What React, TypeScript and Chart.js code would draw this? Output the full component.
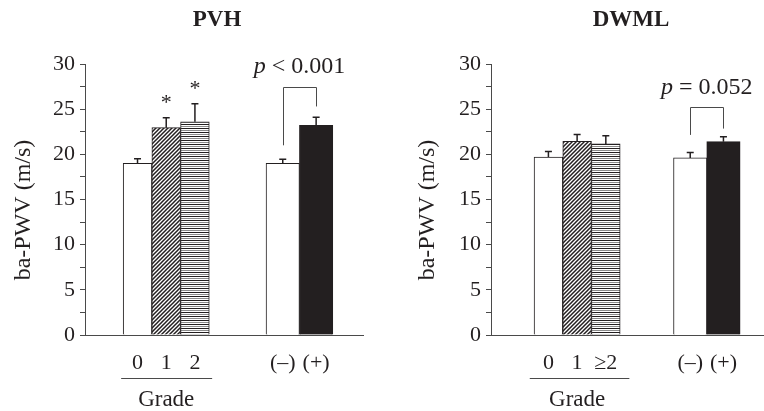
import React, { useEffect, useRef } from 'react';
import { Chart, registerables } from 'chart.js';

Chart.register(...registerables);

// ---------- data ----------
const pvhGradeLabels = ['0', '1', '2'];
const dwmlGradeLabels = ['0', '1', '≥2'];
const groupLabels = ['(–)', '(+)'];
const yAxisTitle = 'ba-PWV (m/s)';
const groupAxisLabel = 'Grade';

const pvhGradeMeans = [19.0, 22.95, 23.6];
const pvhGradeSE = [0.5, 1.1, 2.0];
const pvhGroupMeans = [19.0, 23.2];
const pvhGroupSE = [0.45, 0.9];
const pvhStars = [false, true, true];
const pvhPText = '< 0.001';
const pvhBracket = [27.5, 21.0, 25.3]; // top, left leg end, right leg end (y values)

const dwmlGradeMeans = [19.7, 21.45, 21.15];
const dwmlGradeSE = [0.6, 0.75, 0.9];
const dwmlGroupMeans = [19.6, 21.4];
const dwmlGroupSE = [0.6, 0.55];
const dwmlStars = [false, false, false];
const dwmlPText = '= 0.052';
const dwmlBracket = [25.2, 22.15, 22.85];

const yTicks = { min: 0, max: 30, step: 2.5, labelEvery: 5 };

// ---------- style ----------
const INK = '#231f20';
const AXIS = '#4a4a4a';
const SERIF = '"Liberation Serif", "Times New Roman", serif';

function makeDiag(): CanvasPattern | string {
  const c = document.createElement('canvas');
  c.width = 4;
  c.height = 4;
  const g = c.getContext('2d');
  if (!g) return '#888';
  g.fillStyle = '#fff';
  g.fillRect(0, 0, 4, 4);
  g.strokeStyle = INK;
  g.lineWidth = 1.5;
  g.beginPath();
  g.moveTo(-1, 5);
  g.lineTo(5, -1);
  g.moveTo(-1, 1);
  g.lineTo(1, -1);
  g.moveTo(3, 5);
  g.lineTo(5, 3);
  g.stroke();
  return g.createPattern(c, 'repeat') || '#888';
}

function makeHLines(): CanvasPattern | string {
  const c = document.createElement('canvas');
  c.width = 4;
  c.height = 4;
  const g = c.getContext('2d');
  if (!g) return '#888';
  g.fillStyle = '#fff';
  g.fillRect(0, 0, 4, 4);
  g.fillStyle = INK;
  g.fillRect(0, 0, 4, 1);
  g.fillStyle = '#8a8a8a';
  g.fillRect(0, 2, 4, 1);
  return g.createPattern(c, 'repeat') || '#888';
}

type Panel = {
  title: string;
  gradeLabels: string[];
  gradeMeans: number[];
  gradeSE: number[];
  groupMeans: number[];
  groupSE: number[];
  stars: boolean[];
  pText: string;
  bracket: number[];
  // layout
  padLeft: number;
  padRight: number;
  yWidth: number;
  xMin: number;
  xMax: number;
  groupStart: number;
  groupStep: number;
  titleX: number;
  yTitleX: number;
  underline: number[];
};

const panels: Panel[] = [
  {
    title: 'PVH',
    gradeLabels: pvhGradeLabels,
    gradeMeans: pvhGradeMeans,
    gradeSE: pvhGradeSE,
    groupMeans: pvhGroupMeans,
    groupSE: pvhGroupSE,
    stars: pvhStars,
    pText: pvhPText,
    bracket: pvhBracket,
    padLeft: 0,
    padRight: 19,
    yWidth: 85,
    xMin: -1.83,
    xMax: 7.856,
    groupStart: 5.06,
    groupStep: 1.163,
    titleX: 217,
    yTitleX: 24,
    underline: [-0.57, 0.6],
  },
  {
    title: 'DWML',
    gradeLabels: dwmlGradeLabels,
    gradeMeans: dwmlGradeMeans,
    gradeSE: dwmlGradeSE,
    groupMeans: dwmlGroupMeans,
    groupSE: dwmlGroupSE,
    stars: dwmlStars,
    pText: dwmlPText,
    bracket: dwmlBracket,
    padLeft: 0,
    padRight: 0,
    yWidth: 109,
    xMin: -2.0,
    xMax: 7.51,
    groupStart: 4.94,
    groupStep: 1.157,
    titleX: 249,
    yTitleX: 46,
    underline: [-0.65, 0.82],
  },
];

function PanelChart({ p }: { p: Panel }) {
  const ref = useRef<HTMLCanvasElement | null>(null);

  useEffect(() => {
    const canvas = ref.current;
    if (!canvas) return;
    const gradePos = p.gradeMeans.map((_, i) => i);
    const groupPos = p.groupMeans.map((_, i) => p.groupStart + i * p.groupStep);
    const allPos = [...gradePos, ...groupPos];
    const allLabels = [...p.gradeLabels, ...groupLabels];

    const annot = {
      id: 'annot',
      afterDraw(chart: any) {
        const ctx: CanvasRenderingContext2D = chart.ctx;
        const ys = chart.scales.y;
        const ca = chart.chartArea;
        ctx.save();
        // error bars
        const sets = [
          { means: p.gradeMeans, se: p.gradeSE },
          { means: p.groupMeans, se: p.groupSE },
        ];
        const errTops: number[][] = [];
        sets.forEach((s, d) => {
          const meta = chart.getDatasetMeta(d);
          errTops[d] = [];
          meta.data.forEach((el: any, i: number) => {
            const top = ys.getPixelForValue(s.means[i]);
            const et = ys.getPixelForValue(s.means[i] + s.se[i]);
            errTops[d][i] = et;
            ctx.strokeStyle = INK;
            ctx.lineWidth = 1.5;
            ctx.beginPath();
            ctx.moveTo(el.x, top);
            ctx.lineTo(el.x, et);
            ctx.moveTo(el.x - 3.5, et);
            ctx.lineTo(el.x + 3.5, et);
            ctx.stroke();
          });
        });
        // stars
        ctx.fillStyle = INK;
        ctx.font = `22px ${SERIF}`;
        ctx.textAlign = 'center';
        ctx.textBaseline = 'alphabetic';
        const gMeta = chart.getDatasetMeta(0);
        p.stars.forEach((s, i) => {
          if (!s) return;
          const el = gMeta.data[i];
          ctx.fillText('*', el.x, errTops[0][i] - 9);
        });
        // bracket
        const pMeta = chart.getDatasetMeta(1);
        const x1 = pMeta.data[0].x;
        const x2 = pMeta.data[1].x;
        const yTop = ys.getPixelForValue(p.bracket[0]);
        const yL = ys.getPixelForValue(p.bracket[1]);
        const yR = ys.getPixelForValue(p.bracket[2]);
        ctx.strokeStyle = AXIS;
        ctx.lineWidth = 1;
        ctx.beginPath();
        ctx.moveTo(Math.round(x1) + 0.5, yL);
        ctx.lineTo(Math.round(x1) + 0.5, Math.round(yTop) + 0.5);
        ctx.lineTo(Math.round(x2) + 0.5, Math.round(yTop) + 0.5);
        ctx.lineTo(Math.round(x2) + 0.5, yR);
        ctx.stroke();
        // p text
        const cx = (x1 + x2) / 2;
        const ty = yTop - 20;
        const italic = `italic 24px ${SERIF}`;
        const normal = `24px ${SERIF}`;
        ctx.font = italic;
        const wP = ctx.measureText('p').width;
        ctx.font = normal;
        const rest = ' ' + p.pText;
        const wR = ctx.measureText(rest).width;
        const sx = cx - (wP + wR) / 2;
        ctx.textAlign = 'left';
        ctx.textBaseline = 'middle';
        ctx.fillStyle = INK;
        ctx.font = italic;
        ctx.fillText('p', sx, ty);
        ctx.font = normal;
        ctx.fillText(rest, sx + wP, ty);
        // title
        ctx.font = `bold 23px ${SERIF}`;
        ctx.textAlign = 'center';
        ctx.fillText(p.title, p.titleX, 20);
        // y axis title
        ctx.save();
        ctx.translate(p.yTitleX, 210);
        ctx.rotate(-Math.PI / 2);
        ctx.font = `24px ${SERIF}`;
        ctx.textAlign = 'center';
        ctx.textBaseline = 'middle';
        ctx.fillText(yAxisTitle, 0, 0);
        ctx.restore();
        // grade underline and label
        const xs = chart.scales.x;
        const u1 = xs.getPixelForValue(gradePos[0] + p.underline[0]);
        const u2 = xs.getPixelForValue(gradePos[gradePos.length - 1] + p.underline[1]);
        const uy = ca.bottom + 43;
        ctx.strokeStyle = AXIS;
        ctx.lineWidth = 1;
        ctx.beginPath();
        ctx.moveTo(u1, Math.round(uy) + 0.5);
        ctx.lineTo(u2, Math.round(uy) + 0.5);
        ctx.stroke();
        const gx = xs.getPixelForValue(gradePos[Math.floor(gradePos.length / 2)]);
        ctx.font = `23px ${SERIF}`;
        ctx.textAlign = 'center';
        ctx.textBaseline = 'middle';
        ctx.fillText(groupAxisLabel, gx, ca.bottom + 65);
        ctx.restore();
      },
    };

    const chart = new Chart(canvas, {
      type: 'bar',
      data: {
        datasets: [
          {
            data: p.gradeMeans.map((m, i) => ({ x: gradePos[i], y: m })),
            backgroundColor: ['#ffffff', makeDiag(), makeHLines()] as any,
            borderColor: INK,
            borderWidth: 1,
            barThickness: 28.7,
            grouped: false,
          } as any,
          {
            data: p.groupMeans.map((m, i) => ({ x: groupPos[i], y: m })),
            backgroundColor: ['#ffffff', INK],
            borderColor: INK,
            borderWidth: 1,
            barThickness: 33.4,
            grouped: false,
          } as any,
        ],
      },
      options: {
        responsive: false,
        animation: false,
        events: [],
        layout: { padding: { top: 64, left: p.padLeft, right: p.padRight, bottom: 0 } },
        plugins: { legend: { display: false }, tooltip: { enabled: false }, title: { display: false } },
        scales: {
          x: {
            type: 'linear',
            offset: false,
            min: p.xMin,
            max: p.xMax,
            grid: { display: false, drawTicks: false, offset: false },
            border: { display: true, color: AXIS, width: 1 },
            afterBuildTicks: (scale: any) => {
              scale.ticks = allPos.map((v) => ({ value: v }));
            },
            afterFit: (scale: any) => {
              scale.height = 76;
            },
            ticks: {
              autoSkip: false,
              maxRotation: 0,
              padding: 15,
              color: INK,
              font: { family: SERIF, size: 22 },
              callback: (_v: any, i: number) => allLabels[i],
            },
          },
          y: {
            type: 'linear',
            min: yTicks.min,
            max: yTicks.max,
            afterFit: (scale: any) => {
              scale.width = p.yWidth;
            },
            grid: { display: true, drawOnChartArea: false, drawTicks: true, tickLength: 5, color: AXIS },
            border: { display: true, color: AXIS, width: 1 },
            ticks: {
              stepSize: yTicks.step,
              autoSkip: false,
              padding: 5,
              color: INK,
              font: { family: SERIF, size: 22 },
              callback: (v: any) => (Number(v) % yTicks.labelEvery === 0 ? String(v) : ''),
            },
          },
        },
      },
      plugins: [annot],
    } as any);

    return () => chart.destroy();
  }, [p]);

  return <canvas ref={ref} width={382} height={411} style={{ display: 'block', width: 382, height: 411 }} />;
}

export default function App() {
  return (
    <div style={{ position: 'absolute', left: 0, top: 0, width: 764, height: 411, display: 'flex', background: '#fff' }}>
      {panels.map((p) => (
        <PanelChart key={p.title} p={p} />
      ))}
    </div>
  );
}
